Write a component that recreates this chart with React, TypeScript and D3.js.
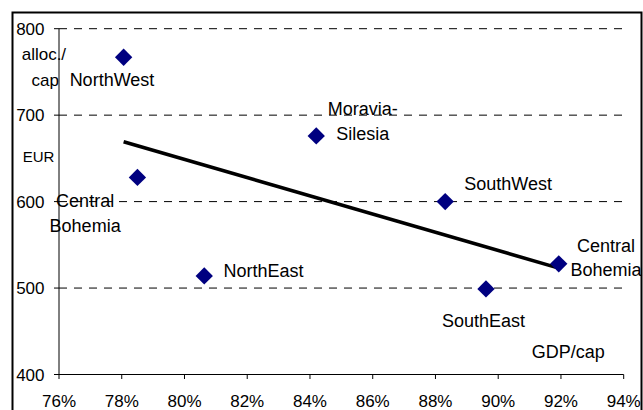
import React from "react";
import * as d3 from "d3";

// ---- data ----
const regions = ["NorthWest", "Central Bohemia", "NorthEast", "Moravia-Silesia", "SouthWest", "SouthEast", "Central Bohemia"];
const gdpPerCap = [0.7806, 0.785, 0.8063, 0.842, 0.8831, 0.8961, 0.9193];
const allocPerCap = [767, 628, 514, 676, 600, 499, 528];
const labelLines = [["NorthWest"], ["Central", "Bohemia"], ["NorthEast"], ["Moravia-", "Silesia"], ["SouthWest"], ["SouthEast"], ["Central", "Bohemia"]];
const xTicks = [0.76, 0.78, 0.8, 0.82, 0.84, 0.86, 0.88, 0.9, 0.92, 0.94];
const yTicks = [400, 500, 600, 700, 800];
const gridValues = [500, 600, 700, 800];

// ---- layout (label offsets from point, px; dy = first baseline) ----
const labelLayout = [
  { dx: -54, dy: 28.7, anchor: "start" },
  { dx: -52.3, dy: 29.4, anchor: "middle" },
  { dx: 19.3, dy: 0.7, anchor: "start" },
  { dx: 46.6, dy: -20.7, anchor: "middle" },
  { dx: 19, dy: -11.3, anchor: "start" },
  { dx: -44, dy: 37.7, anchor: "start" },
  { dx: 47.2, dy: -12.3, anchor: "middle" },
];

const W = 643, H = 410;
const FONT = "Liberation Sans, Arial, sans-serif";

export default function App() {
  const x = d3.scaleLinear().domain([0.76, 0.94]).range([59, 623.7]);
  const y = d3.scaleLinear().domain([400, 800]).range([374.5, 28.7]);

  // least squares trend line
  const mx = d3.mean(gdpPerCap)!;
  const my = d3.mean(allocPerCap)!;
  let sxy = 0, sxx = 0;
  gdpPerCap.forEach((v, i) => { sxy += (v - mx) * (allocPerCap[i] - my); sxx += (v - mx) * (v - mx); });
  const slope = sxy / sxx;
  const x0 = d3.min(gdpPerCap)!, x1 = d3.max(gdpPerCap)!;
  const trend = d3.line<[number, number]>().x(d => x(d[0])).y(d => y(d[1]))([
    [x0, my + slope * (x0 - mx)],
    [x1, my + slope * (x1 - mx)],
  ]);

  const diamond = d3.symbol().type(d3.symbolSquare).size(150)()!;
  const lh = 24.8;

  return (
    <div style={{ position: "absolute", left: 0, top: 0 }}>
      <svg width={W} height={H} style={{ display: "block", background: "#fff" }} fontFamily={FONT}>
        <rect x={0} y={0} width={W} height={H} fill="#fff" />
        {/* outer frame */}
        <rect x={12.5} y={12.5} width={629} height={H + 20} fill="none" stroke="#000" strokeWidth={2} />

        {/* gridlines */}
        {gridValues.map(v => (
          <line key={v} x1={x(0.76)} x2={x(0.94)} y1={y(v)} y2={y(v)} stroke="#000" strokeWidth={1} strokeDasharray="8,7" />
        ))}

        {/* axes */}
        <line x1={x(0.76)} x2={x(0.76)} y1={y(800)} y2={y(400)} stroke="#000" strokeWidth={1} />
        <line x1={x(0.76)} x2={x(0.94)} y1={y(400)} y2={y(400)} stroke="#000" strokeWidth={1} />
        {yTicks.map(v => (
          <g key={v}>
            <line x1={x(0.76) - 5} x2={x(0.76)} y1={y(v)} y2={y(v)} stroke="#000" />
            <text x={44.5} y={y(v) + 6} textAnchor="end" fontSize={17}>{v}</text>
          </g>
        ))}
        {xTicks.map(v => (
          <g key={v}>
            <line x1={x(v)} x2={x(v)} y1={y(400)} y2={y(400) + 4.5} stroke="#000" />
            <text x={x(v)} y={406.5} textAnchor="middle" fontSize={17}>{d3.format(".0%")(v)}</text>
          </g>
        ))}

        {/* axis titles */}
        <text x={21.7} y={60} fontSize={17}>alloc./</text>
        <text x={59} y={86} textAnchor="end" fontSize={17}>cap</text>
        <text x={22.7} y={162.3} fontSize={15}>EUR</text>
        <text x={531.7} y={358.3} fontSize={18}>GDP/cap</text>

        {/* trend line */}
        <path d={trend!} stroke="#000" strokeWidth={3.6} fill="none" />

        {/* points */}
        {gdpPerCap.map((v, i) => (
          <path key={i} d={diamond} fill="#000080" transform={`translate(${x(v)},${y(allocPerCap[i])}) rotate(45)`}>
            <title>{regions[i]}</title>
          </path>
        ))}

        {/* labels */}
        {gdpPerCap.map((v, i) => {
          const L = labelLayout[i];
          const px = x(v) + L.dx, py = y(allocPerCap[i]) + L.dy;
          return (
            <text key={i} fontSize={18} textAnchor={L.anchor}>
              {labelLines[i].map((t, j) => (
                <tspan key={j} x={px} y={py + j * lh}>{t}</tspan>
              ))}
            </text>
          );
        })}
      </svg>
    </div>
  );
}
